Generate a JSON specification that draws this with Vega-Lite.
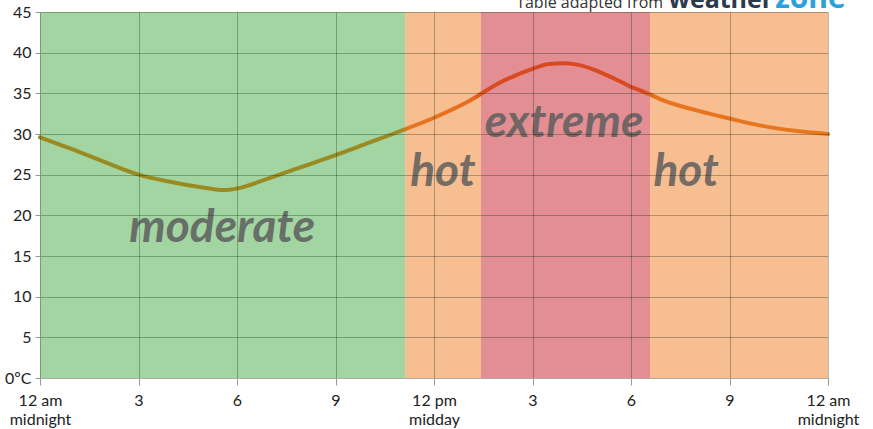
{
  "$schema": "https://vega.github.io/schema/vega-lite/v6.json",
  "width": 788,
  "height": 366,
  "autosize": {"type": "none"},
  "padding": {"left": 40, "top": 12, "right": 45, "bottom": 51},
  "background": "white",
  "view": {"stroke": null},
  "config": {"font": "Lato"},
  "datasets": {
    "bands": [
      {"start": 0, "end": 11.12, "level": "moderate"},
      {"start": 11.12, "end": 13.43, "level": "hot"},
      {"start": 13.43, "end": 18.58, "level": "extreme"},
      {"start": 18.58, "end": 24, "level": "hot"}
    ],
    "temps": [
      {"hour": 0, "temp": 29.6},
      {"hour": 1, "temp": 28.1},
      {"hour": 2, "temp": 26.5},
      {"hour": 3, "temp": 25.0},
      {"hour": 4, "temp": 24.1},
      {"hour": 5, "temp": 23.4},
      {"hour": 5.6, "temp": 23.1},
      {"hour": 6, "temp": 23.3},
      {"hour": 7, "temp": 24.6},
      {"hour": 8, "temp": 26.0},
      {"hour": 9, "temp": 27.4},
      {"hour": 10, "temp": 28.9},
      {"hour": 11, "temp": 30.4},
      {"hour": 12, "temp": 32.0},
      {"hour": 13, "temp": 33.9},
      {"hour": 14, "temp": 36.3},
      {"hour": 15, "temp": 38.0},
      {"hour": 15.5, "temp": 38.6},
      {"hour": 16, "temp": 38.7},
      {"hour": 16.5, "temp": 38.4},
      {"hour": 17, "temp": 37.7},
      {"hour": 17.5, "temp": 36.8},
      {"hour": 18, "temp": 35.8},
      {"hour": 18.5, "temp": 35.0},
      {"hour": 19, "temp": 34.1},
      {"hour": 20, "temp": 32.9},
      {"hour": 21, "temp": 31.9},
      {"hour": 22, "temp": 31.0},
      {"hour": 23, "temp": 30.4},
      {"hour": 24, "temp": 30.0}
    ],
    "labels": [
      {"hour": 5.55, "temp": 18.4, "text": "moderate"},
      {"hour": 12.27, "temp": 25.3, "text": "hot"},
      {"hour": 15.96, "temp": 31.4, "text": "extreme"},
      {"hour": 19.68, "temp": 25.3, "text": "hot"}
    ]
  },
  "layer": [
    {
      "data": {"name": "bands"},
      "mark": {"type": "rect"},
      "encoding": {
        "x": {
          "field": "start", "type": "quantitative",
          "scale": {"domain": [0, 24], "nice": false, "zero": false},
          "axis": {
            "values": [0, 3, 6, 9, 12, 15, 18, 21, 24],
            "title": null,
            "zindex": 1,
            "grid": true,
            "gridColor": "#0a200a",
            "gridOpacity": 0.3,
            "domainColor": "#aaaaaa",
            "tickColor": "#999999",
            "tickSize": 7,
            "labelPadding": 7,
            "labelFontSize": 16,
            "labelColor": "#222222",
            "labelFont": "Lato",
            "labelLineHeight": 19,
            "labelBaseline": "top",
            "labelFlush": false,
            "labelOverlap": false,
            "labelExpr": "datum.value==0||datum.value==24 ? ['12 am','midnight'] : datum.value==12 ? ['12 pm','midday'] : datum.value>12 ? '' + (datum.value-12) : '' + datum.value"
          }
        },
        "x2": {"field": "end"},
        "y": {"datum": 0, "type": "quantitative",
          "scale": {"domain": [0, 45], "nice": false},
          "axis": {
            "values": [0, 5, 10, 15, 20, 25, 30, 35, 40, 45],
            "title": null,
            "zindex": 1,
            "grid": true,
            "gridColor": "#0a200a",
            "gridOpacity": 0.3,
            "domain": false,
            "tickColor": "#999999",
            "tickSize": 5,
            "labelPadding": 4,
            "labelFontSize": 16,
            "labelColor": "#222222",
            "labelFont": "Lato",
            "labelExpr": "datum.value==0 ? '0ºC' : '' + datum.value"
          }
        },
        "y2": {"datum": 45},
        "color": {
          "field": "level", "type": "nominal", "legend": null,
          "scale": {"domain": ["moderate", "hot", "extreme"], "range": ["#a2d5a2", "#f7be92", "#e38e93"]}
        }
      }
    },
    {
      "data": {"name": "temps"},
      "mark": {
        "type": "line",
        "interpolate": "monotone",
        "strokeWidth": 4,
        "strokeCap": "round",
        "color": {
          "x1": 0, "y1": 0, "x2": 1, "y2": 0,
          "gradient": "linear",
          "stops": [
            {"offset": 0, "color": "#9a8a22"},
            {"offset": 0.455, "color": "#9a8a22"},
            {"offset": 0.47, "color": "#e8761e"},
            {"offset": 0.55, "color": "#e86a1e"},
            {"offset": 0.565, "color": "#d84a20"},
            {"offset": 0.765, "color": "#d84a20"},
            {"offset": 0.78, "color": "#e8721e"},
            {"offset": 1, "color": "#e8781e"}
          ]
        }
      },
      "encoding": {
        "x": {"field": "hour", "type": "quantitative"},
        "y": {"field": "temp", "type": "quantitative"}
      }
    },
    {
      "data": {"name": "labels"},
      "mark": {"type": "text", "font": "Lato", "fontStyle": "italic", "fontWeight": "bold", "fontSize": 46, "color": "#5e5e5e", "opacity": 0.85, "baseline": "middle", "align": "center"},
      "encoding": {
        "x": {"field": "hour", "type": "quantitative"},
        "y": {"field": "temp", "type": "quantitative"},
        "text": {"field": "text"}
      }
    },
    {
      "mark": {"type": "rule", "color": "#aaaaaa", "strokeWidth": 2},
      "encoding": {"y": {"datum": 45}}
    },
    {
      "data": {"values": [
        {"hour": 18.98, "temp": 45.45, "text": "Table adapted from"}
      ]},
      "mark": {"type": "text", "font": "Open Sans", "fontSize": 16, "color": "#333333", "align": "right", "baseline": "alphabetic"},
      "encoding": {
        "x": {"field": "hour", "type": "quantitative"},
        "y": {"field": "temp", "type": "quantitative"},
        "text": {"field": "text"}
      }
    },
    {
      "data": {"values": [
        {"hour": 22.33, "temp": 45.45, "text": "weather"}
      ]},
      "mark": {"type": "text", "font": "Open Sans", "fontSize": 25, "fontWeight": "bold", "color": "#2b3a4c", "align": "right", "baseline": "alphabetic"},
      "encoding": {
        "x": {"field": "hour", "type": "quantitative"},
        "y": {"field": "temp", "type": "quantitative"},
        "text": {"field": "text"}
      }
    },
    {
      "data": {"values": [
        {"hour": 22.39, "temp": 45.45, "text": "zone"}
      ]},
      "mark": {"type": "text", "font": "Open Sans", "fontSize": 30, "fontWeight": "bold", "color": "#2aa0dc", "align": "left", "baseline": "alphabetic"},
      "encoding": {
        "x": {"field": "hour", "type": "quantitative"},
        "y": {"field": "temp", "type": "quantitative"},
        "text": {"field": "text"}
      }
    }
  ]
}
